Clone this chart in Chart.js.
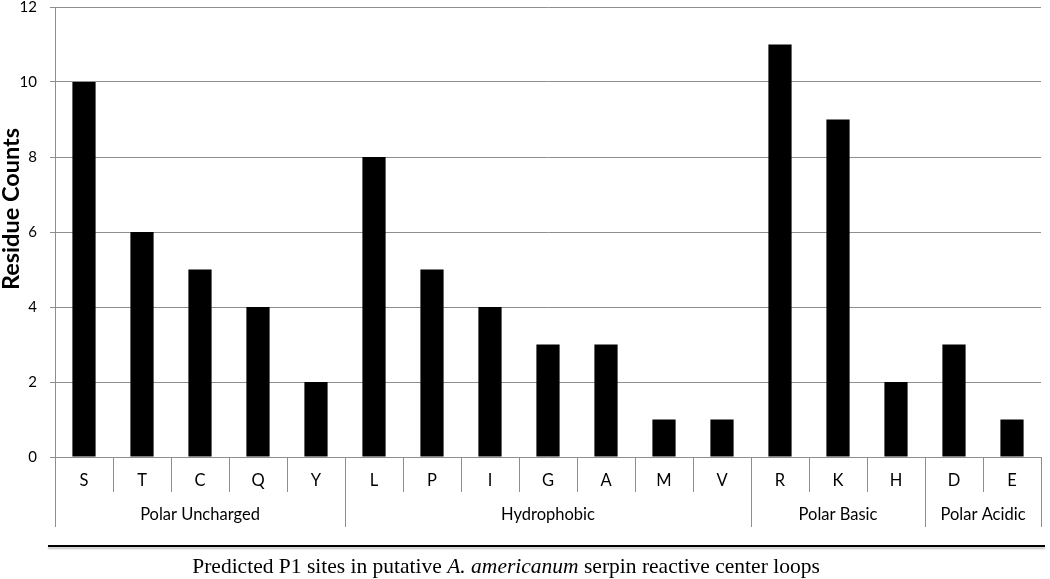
<!DOCTYPE html>
<html>
<head>
<meta charset="utf-8">
<script src="https://cdn.jsdelivr.net/npm/chart.js@4.4.1/dist/chart.umd.min.js"></script>
<style>
  html, body { margin: 0; padding: 0; background: #fff; }
  #wrap { position: relative; width: 1050px; height: 579px; }
  #chart { position: absolute; left: 0; top: 0; }
  #rule {
    position: absolute; left: 48px; top: 545px; width: 997px; height: 0;
    border-top: 2px solid #000; box-shadow: 0 2px 2px rgba(0,0,0,0.25);
  }
  #caption {
    position: absolute; left: 0; width: 1012px; top: 554px; text-align: center;
    font-family: "Liberation Serif", "Times New Roman", serif; font-size: 21.5px; color: #000;
  }
</style>
</head>
<body>
<div id="wrap">
  <canvas id="chart" width="1050" height="579"></canvas>
  <div id="rule"></div>
  <div id="caption">Predicted P1 sites in putative <i>A. americanum</i> serpin reactive center loops</div>
</div>
<script>
// Data
const residues = ['S', 'T', 'C', 'Q', 'Y', 'L', 'P', 'I', 'G', 'A', 'M', 'V', 'R', 'K', 'H', 'D', 'E'];
const counts = [10, 6, 5, 4, 2, 8, 5, 4, 3, 3, 1, 1, 11, 9, 2, 3, 1];
const groupNames = ['Polar Uncharged', 'Hydrophobic', 'Polar Basic', 'Polar Acidic'];
const groupSizes = [5, 7, 3, 2];
const yTicks = [0, 2, 4, 6, 8, 10, 12];
const yTitle = 'Residue Counts';

const lineColor = '#8e8e8e';
const fontFamily = 'Lato, "Liberation Sans", sans-serif';

// Draws residue letters, group names, separators and the y title
const categoryAxis = {
    id: 'categoryAxis',
    afterDraw(chart) {
        const ctx = chart.ctx;
        const x = chart.scales.x;
        const area = chart.chartArea;
        const n = residues.length;
        const bottom = area.bottom;

        function boundary(i) {
            if (i <= 0) return area.left;
            if (i >= n) return area.right;
            return (x.getPixelForValue(i - 1) + x.getPixelForValue(i)) / 2;
        }

        const groupEdges = [0];
        groupSizes.forEach(s => groupEdges.push(groupEdges[groupEdges.length - 1] + s));

        ctx.save();
        ctx.strokeStyle = lineColor;
        ctx.lineWidth = 1;
        for (let i = 0; i <= n; i++) {
            const px = Math.round(boundary(i)) + 0.5;
            const isGroup = groupEdges.includes(i);
            ctx.beginPath();
            ctx.moveTo(px, bottom);
            ctx.lineTo(px, isGroup ? bottom + 70 : bottom + 35);
            ctx.stroke();
        }

        ctx.fillStyle = '#000';
        ctx.font = '16.5px ' + fontFamily;
        ctx.textAlign = 'center';
        ctx.textBaseline = 'middle';
        residues.forEach((r, i) => {
            ctx.fillText(r, x.getPixelForValue(i), bottom + 24);
        });
        groupNames.forEach((g, k) => {
            const cx = (boundary(groupEdges[k]) + boundary(groupEdges[k + 1])) / 2;
            ctx.fillText(g, cx, bottom + 58);
        });

        // y axis title, sits a bit above the middle like the original
        ctx.translate(11, 209);
        ctx.rotate(-Math.PI / 2);
        ctx.font = 'bold 23.5px ' + fontFamily;
        ctx.fillText(yTitle, 0, 0);
        ctx.restore();
    }
};

new Chart(document.getElementById('chart'), {
    type: 'bar',
    data: {
        labels: residues,
        datasets: [{
            data: counts,
            backgroundColor: '#000',
            borderWidth: 0,
            barPercentage: 0.4,
            categoryPercentage: 1
        }]
    },
    options: {
        responsive: false,
        animation: false,
        layout: { padding: { left: 0, right: 9, top: 7, bottom: 122 } },
        plugins: {
            legend: { display: false },
            tooltip: { enabled: false }
        },
        scales: {
            x: {
                display: false,
                offset: true
            },
            y: {
                min: 0,
                max: 12,
                afterBuildTicks(scale) {
                    scale.ticks = yTicks.map(v => ({ value: v }));
                },
                afterFit(scale) {
                    scale.width = 55;
                    scale.paddingTop = 0;
                    scale.paddingBottom = 0;
                },
                grid: {
                    color: lineColor,
                    tickLength: 5,
                    drawTicks: true
                },
                border: { display: true, color: lineColor },
                ticks: {
                    color: '#000',
                    padding: 13,
                    font: { family: fontFamily, size: 15 }
                }
            }
        }
    },
    plugins: [categoryAxis]
});
</script>
</body>
</html>
